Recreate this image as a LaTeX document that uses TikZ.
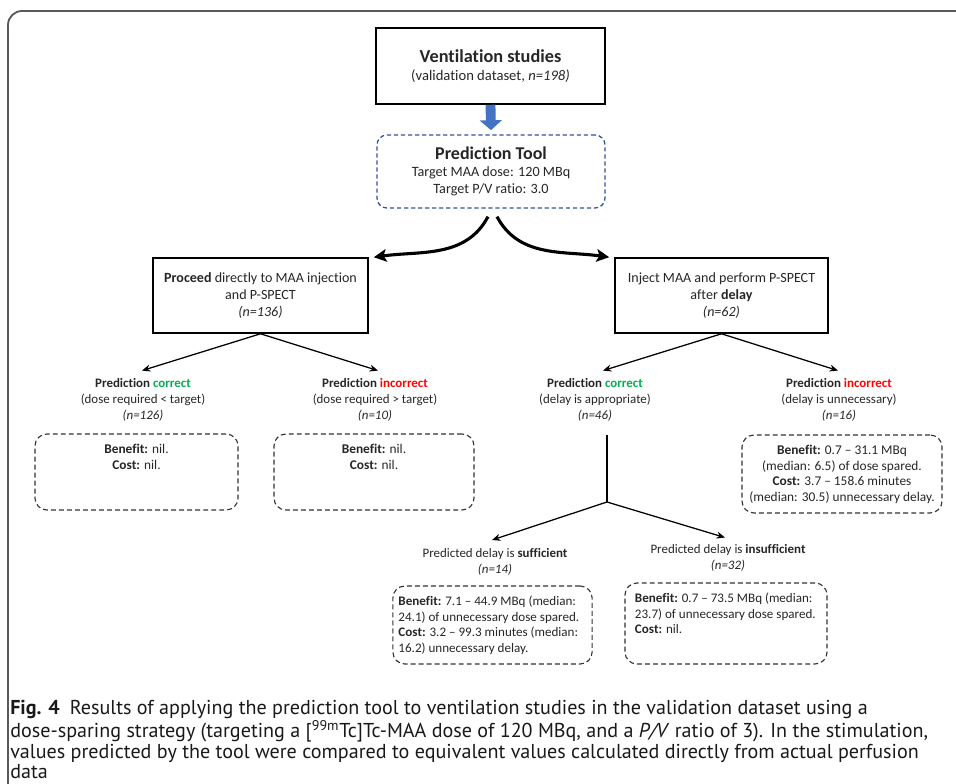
\documentclass[tikz,border=0pt]{standalone}
\usepackage{fontspec}
\setmainfont{Carlito}[Ligatures={TeX,NoCommon}]
\newfontfamily\capfont{PT Sans}[Ligatures={TeX,NoCommon}]
\usetikzlibrary{arrows.meta,positioning,calc}
\definecolor{ToolBlue}{RGB}{68,114,196}
\definecolor{DashBlue}{RGB}{47,85,151}
\definecolor{OkGreen}{RGB}{0,176,80}
\definecolor{BadRed}{RGB}{255,0,0}
\definecolor{FrameGray}{RGB}{90,90,90}
\definecolor{TextGray}{RGB}{38,38,38}
\newcommand{\boxtext}[3]{\parbox[c][#1][t]{#2}{#3}}
\newcommand{\good}{\textcolor{OkGreen}{correct}}
\newcommand{\bad}{\textcolor{BadRed}{incorrect}}
\tikzset{
  mainbox/.style={draw=black,line width=1.1pt,align=center,text=TextGray,
                  font=\fontsize{10}{12}\selectfont,inner sep=0pt},
  toolbox/.style={draw=DashBlue,line width=0.9pt,dash pattern=on 3pt off 2pt,
                  rounded corners=0.25cm,align=center,text=TextGray,
                  font=\fontsize{10.1}{12}\selectfont,inner sep=0pt},
  notebox/.style={draw=black!80,line width=0.8pt,dash pattern=on 3.5pt off 2.2pt,
                  rounded corners=0.3cm,inner xsep=0.1cm,inner ysep=0.2cm,
                  text=TextGray,font=\fontsize{9.5}{11.3}\selectfont},
  outcome/.style={align=center,text=TextGray,inner sep=2pt,
                  font=\fontsize{9.2}{11.3}\selectfont},
  arr/.style={-{Stealth[length=6pt,width=5pt]},line width=0.9pt},
  bigarr/.style={-{Stealth[length=9pt,width=9pt,inset=2pt]},line width=2.2pt},
}

\begin{document}
\begin{tikzpicture}[x=0.025cm,y=0.025cm]
  \useasboundingbox (0,0) rectangle (956,-784);
  % frame of the figure
  \draw[FrameGray,line width=1.3pt,rounded corners=0.35cm] (8,-800) -- (8,-11) -- (970,-11);

  \node[mainbox,minimum width=5.725cm,minimum height=1.9cm] (vent) at (490.5,-66)
    {{\fontsize{13}{14}\selectfont\bfseries Ventilation studies}\\[0.5pt]
     {\fontsize{10.4}{12}\selectfont(validation dataset, \textit{n=198)}}};
  \node[toolbox,minimum width=5.7cm,minimum height=1.825cm] (tool) at (491,-171.5)
    {{\fontsize{12.8}{14}\selectfont\bfseries Prediction Tool}\\[0.5pt]
     Target MAA dose: 120 MBq\\Target P/V ratio: 3.0};
  \draw[ToolBlue,line width=7pt,-{Triangle[length=7pt,width=15.5pt]}]
    (vent.south) -- ([yshift=3pt]tool.north);

  \node[mainbox,minimum width=5.375cm,minimum height=1.875cm] (proceed) at (260.5,-295.5)
    {\textbf{Proceed} directly to MAA injection\\and P-SPECT\\\textit{(n=136)}};
  \node[mainbox,minimum width=5.325cm,minimum height=1.875cm] (delay) at (721.5,-295.5)
    {Inject MAA and perform P-SPECT\\after \textbf{delay}\\\textit{(n=62)}};
  \draw[bigarr] ([shift={(-3,-8)}]tool.south) to[out=-118,in=8] ([shift={(5,0)}]proceed.north east);
  \draw[bigarr] ([shift={(6,-8)}]tool.south) to[out=-62,in=172] ([shift={(-5,0)}]delay.north west);

  % outcomes
  \node[outcome] (okA) at (143,-400)
    {\textbf{Prediction \good}\\(dose required < target)\\\textit{(n=126)}};
  \node[outcome] (badA) at (375,-400)
    {\textbf{Prediction \bad}\\(dose required > target)\\\textit{(n=10)}};
  \node[outcome] (okB) at (595,-400)
    {\textbf{Prediction \good}\\(delay is appropriate)\\\textit{(n=46)}};
  \node[outcome] (badB) at (839,-400)
    {\textbf{Prediction \bad}\\(delay is unnecessary)\\\textit{(n=16)}};
  \draw[arr] (proceed.south) -- ([shift={(-1,5)}]okA.north);
  \draw[arr] (proceed.south) -- ([shift={(3,5)}]badA.north);
  \draw[arr] (delay.south) -- ([shift={(8,5)}]okB.north);
  \draw[arr] (delay.south) -- ([shift={(-1,5)}]badB.north);

  \node[notebox] (noteA) at (136.5,-472)
    {\boxtext{1.5cm}{4.875cm}{\centering\strut\textbf{Benefit:} nil.\\\textbf{Cost:} nil.}};
  \node[notebox] (noteB) at (374,-472)
    {\boxtext{1.5cm}{4.8cm}{\centering\strut\textbf{Benefit:} nil.\\\textbf{Cost:} nil.}};
  \node[notebox] (noteC) at (842,-474)
    {\boxtext{1.55cm}{4.8cm}{\centering\strut\textbf{Benefit:} 0.7 -- 31.1 MBq\\
     (median: 6.5) of dose spared.\\\textbf{Cost:} 3.7 -- 158.6 minutes\\
     (median: 30.5) unnecessary delay.}};

  % delay branch
  \coordinate (stem) at (607,-435);
  \coordinate (fork) at (607,-502);
  \node[outcome] (suff) at (495,-561.5)
    {Predicted delay is \textbf{sufficient}\\\textit{(n=14)}};
  \node[outcome] (insuff) at (728,-558)
    {Predicted delay is \textbf{insufficient}\\\textit{(n=32)}};
  \draw[line width=0.9pt] (stem) -- (fork);
  \draw[arr] (fork) -- ([shift={(-3,5)}]suff.north);
  \draw[arr] (fork) -- ([shift={(-3,4)}]insuff.north);

  \node[notebox,inner xsep=0.14cm,font=\fontsize{9.3}{11.3}\selectfont] (noteD) at (492.5,-625)
    {\boxtext{1.55cm}{4.7cm}{\raggedright\strut\mbox{\textbf{Benefit:} 7.1 -- 44.9 MBq (median:}\\
     \mbox{24.1) of unnecessary dose spared.}\\\mbox{\textbf{Cost:} 3.2 -- 99.3 minutes (median:}\\
     \mbox{16.2) unnecessary delay.}}};
  \node[notebox,inner xsep=0.25cm,font=\fontsize{9.3}{11.3}\selectfont] (noteE) at (726,-623.5)
    {\boxtext{1.625cm}{4.55cm}{\raggedright\strut\mbox{\textbf{Benefit:} 0.7 -- 73.5 MBq (median:}\\
     \mbox{23.7) of unnecessary dose spared.}\\\mbox{\textbf{Cost:} nil.}}};

  % caption
  \node[anchor=north west,align=left,inner sep=0pt,text=black!90,
        font=\capfont\fontsize{14.3}{14.6}\selectfont] (caption) at (10,-700)
    {\textbf{Fig. 4}\enspace Results of applying the prediction tool to ventilation studies in the validation dataset using a\\
     dose-sparing strategy (targeting a [\textsuperscript{99m}Tc]Tc-MAA dose of 120 MBq, and a \textit{P/V} ratio of 3). In the stimulation,\\
     values predicted by the tool were compared to equivalent values calculated directly from actual perfusion\\
     data};
\end{tikzpicture}
\end{document}
